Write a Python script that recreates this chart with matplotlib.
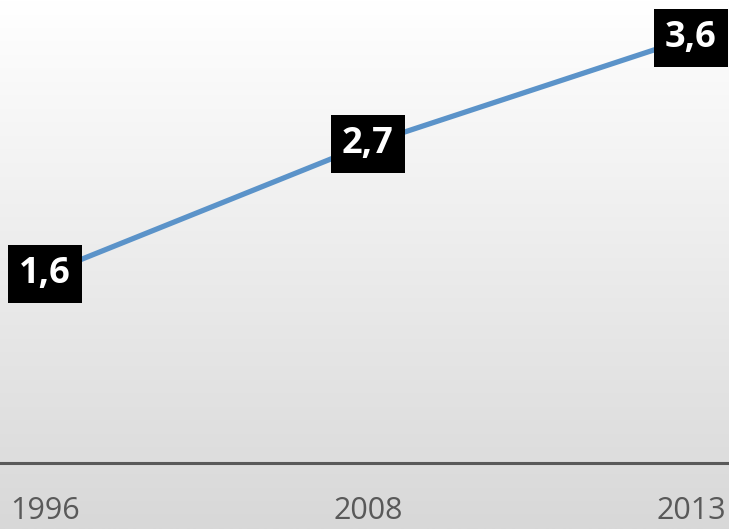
import numpy as np
import matplotlib.pyplot as plt

years = ['1996', '2008', '2013']
values = [1.6, 2.7, 3.6]
labels = ['1,6', '2,7', '3,6']

fig = plt.figure(figsize=(7.29, 5.29), dpi=100)

# gradient background
bg = fig.add_axes([0, 0, 1, 1], zorder=0)
grad = np.linspace(0, 1, 256).reshape(-1, 1)
bg.imshow(grad, aspect='auto', cmap=plt.matplotlib.colors.LinearSegmentedColormap.from_list(
    'g', ['#ffffff', '#d8d8d8']), extent=[0, 1, 0, 1], origin='upper')
bg.axis('off')

ax = fig.add_axes([0, 66 / 529, 1, 463 / 529], zorder=1)
ax.patch.set_alpha(0)
x = np.arange(len(years))
ax.plot(x, values, color='#5b93c9', linewidth=3.8, solid_capstyle='butt')

for xi, v, lab in zip(x, values, labels):
    ax.text(xi, v, lab, ha='center', va='center', color='white', fontsize=26,
            fontweight='bold', family='Open Sans',
            bbox=dict(boxstyle='square,pad=0.3', fc='black', ec='none'))

ax.set_xlim(-0.139, 2.118)
ax.set_ylim(0, 3.92)
for s in ['top', 'left', 'right']:
    ax.spines[s].set_visible(False)
ax.spines['bottom'].set_color('#595959')
ax.spines['bottom'].set_linewidth(2.2)
ax.set_yticks([])
ax.set_xticks(x)
ax.set_xticklabels(years, fontsize=22, color='#595959', family='Open Sans')
ax.tick_params(axis='x', length=0, pad=24)

fig.savefig('out.png', dpi=100)
